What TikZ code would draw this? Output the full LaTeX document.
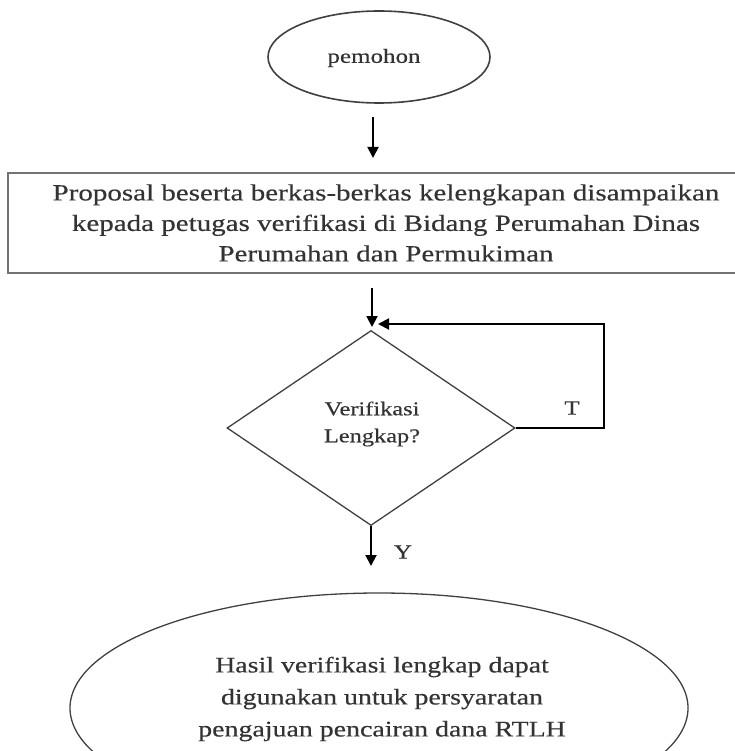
\documentclass[tikz,border=0pt]{standalone}
\usepackage{fontspec}
\setmainfont{Liberation Serif}[FakeStretch=1.25,FakeBold=0.4]
\usetikzlibrary{shapes.geometric,arrows.meta}
\definecolor{txt}{HTML}{333333}
\tikzset{
  every node/.style={text=txt},
  term/.style={ellipse, draw=black!75, line width=1.6pt, inner sep=0pt},
  procbox/.style={draw=black!55, line width=2.2pt, rectangle},
  decide/.style={diamond, draw=black!75, line width=1.3pt, inner sep=0pt},
  flow/.style={draw=black, line width=1.9pt, -{Triangle[length=11pt,width=11pt]}},
  lbl/.style={font=\fontsize{20}{24}\selectfont},
}
\begin{document}
\begin{tikzpicture}[x=1pt,y=-1pt]
\useasboundingbox (0,0) rectangle (734,751);
\node[term, minimum width=222pt, minimum height=92pt] (start) at (379,57) {};
\node[lbl] (starttxt) at (374,58) {pemohon};
\node[procbox, minimum width=736pt, minimum height=100pt] (proc) at (376,223) {};
\node[lbl, align=center, font=\fontsize{23.2}{30.5}\selectfont] (proctxt) at (386,223) {Proposal beserta berkas-berkas kelengkapan disampaikan\\kepada petugas verifikasi di Bidang Perumahan Dinas\\Perumahan dan Permukiman};
\node[decide, minimum width=288pt, minimum height=195pt] (dec) at (371,428) {};
\node[lbl, align=center, font=\fontsize{19.5}{27}\selectfont] (dectxt) at (372,424) {Verifikasi\\Lengkap?};
\node[term, line width=1.3pt, minimum width=618pt, minimum height=230pt] (end) at (379,708) {};
\node[lbl, align=center, font=\fontsize{22.3}{32}\selectfont] (endtxt) at (382,699) {Hasil verifikasi lengkap dapat\\digunakan untuk persyaratan\\pengajuan pencairan dana RTLH};
\coordinate (a1s) at (373,117);
\coordinate (a1e) at (373,158);
\coordinate (a2s) at (372,288);
\coordinate (a2e) at (372,327);
\coordinate (c1) at (604,428);
\coordinate (c2) at (604,324);
\coordinate (c3) at (378,324);
\coordinate (a3e) at (371,566);
\draw[flow] (a1s) -- (a1e);
\draw[flow] (a2s) -- (a2e);
\draw[flow] (dec.east) -- (c1) -- (c2) -- (c3);
\draw[flow] (dec.south) -- (a3e);
\node[lbl] (tlbl) at (572,408) {T};
\node[lbl] (ylbl) at (403,552) {Y};
\end{tikzpicture}
\end{document}
